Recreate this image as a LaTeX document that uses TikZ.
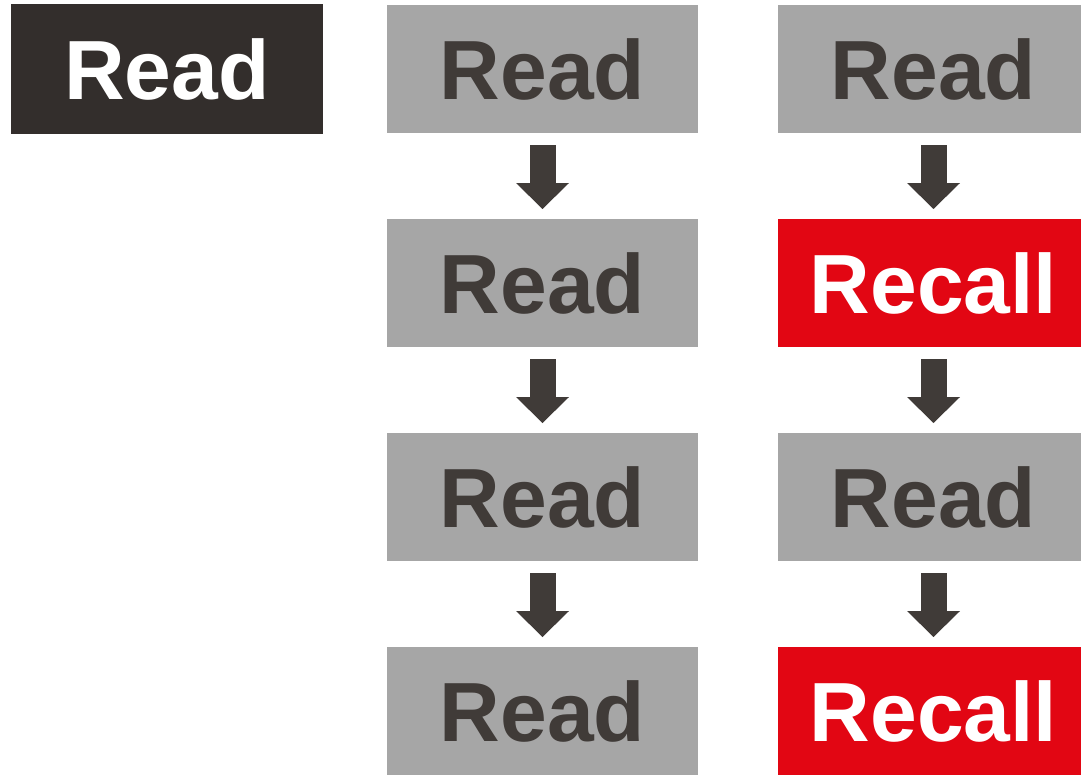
\documentclass[tikz,border=0pt]{standalone}
\usepackage{fontspec}
\setmainfont{Liberation Sans}
\usetikzlibrary{arrows.meta}
\definecolor{boxblack}{HTML}{332E2C}
\definecolor{boxgray}{HTML}{A6A6A6}
\definecolor{darktext}{HTML}{403B38}
\definecolor{boxred}{HTML}{E20613}
\begin{document}
\begin{tikzpicture}[x=1pt,y=-1pt,
  box/.style={rectangle, inner sep=0pt, outer sep=0pt, minimum width=311pt, minimum height=128pt,
    font=\fontsize{84}{84}\selectfont\bfseries, text height=60pt, text depth=0pt, anchor=north west},
  readbox/.style={box, fill=boxgray, text=darktext},
  recallbox/.style={box, fill=boxred, text=white},
  blackbox/.style={box, fill=boxblack, text=white, minimum width=312pt, minimum height=130pt},
  arr/.style={draw=darktext, line width=26pt, shorten <=12pt, shorten >=10pt,
    -{Triangle[width=53pt,length=26pt,line width=0pt,fill=darktext]}}
]
\useasboundingbox (0,0) rectangle (1081,774);
\clip (0,0) rectangle (1081,774);

\node[blackbox] (b) at (11,4) {Read};

\node[readbox] (a1) at (387,5) {Read};
\node[readbox] (a2) at (387,219) {Read};
\node[readbox] (a3) at (387,433) {Read};
\node[readbox] (a4) at (387,647) {Read};

\node[readbox] (c1) at (778,5) {Read};
\node[recallbox] (c2) at (778,219) {Recall};
\node[readbox] (c3) at (778,433) {Read};
\node[recallbox] (c4) at (778,647) {Recall};

\draw[arr] (a1.south) -- (a2.north);
\draw[arr] (a2.south) -- (a3.north);
\draw[arr] (a3.south) -- (a4.north);
\draw[arr] (c1.south) -- (c2.north);
\draw[arr] (c2.south) -- (c3.north);
\draw[arr] (c3.south) -- (c4.north);
\end{tikzpicture}
\end{document}
